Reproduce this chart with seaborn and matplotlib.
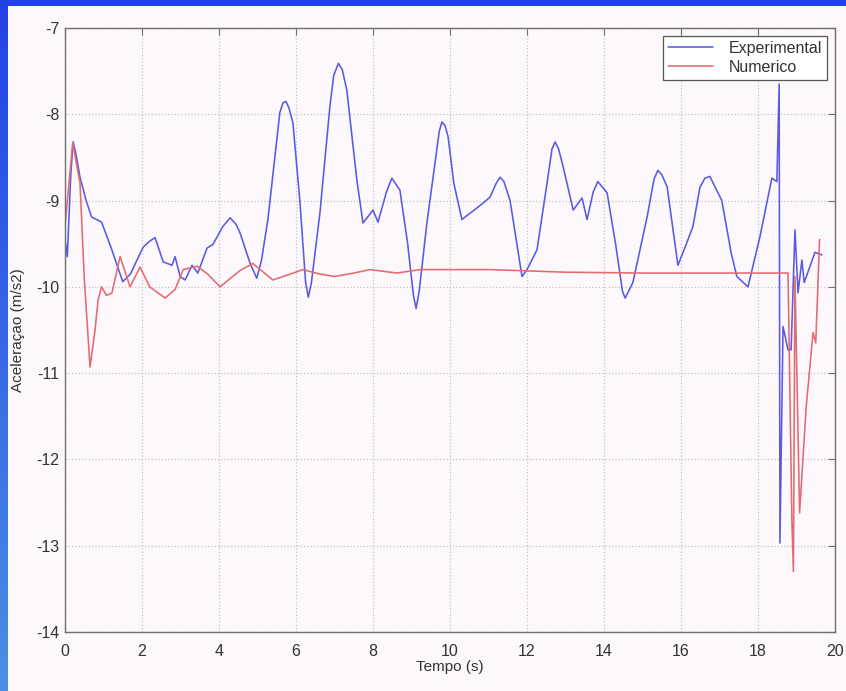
import numpy as np
import pandas as pd
import matplotlib
matplotlib.use("Agg")
import matplotlib.pyplot as plt
import seaborn as sns
from matplotlib.patches import Rectangle
from matplotlib.colors import LinearSegmentedColormap

# ---- data ----
exp_t = [0, 0.06, 0.15, 0.21, 0.28, 0.39, 0.55, 0.69, 0.95, 1.2, 1.5, 1.7, 2.03, 2.2, 2.34,
         2.55, 2.78, 2.86, 2.99, 3.12, 3.3, 3.45, 3.69, 3.84, 4.1, 4.29, 4.45, 4.55, 4.81,
         4.98, 5.1, 5.27, 5.45, 5.58, 5.66, 5.74, 5.82, 5.92, 6.1, 6.25, 6.32, 6.4, 6.62,
         6.88, 6.98, 7.1, 7.2, 7.32, 7.58, 7.74, 8.0, 8.13, 8.35, 8.49, 8.7, 8.9, 9.05, 9.12,
         9.2, 9.4, 9.6, 9.72, 9.79, 9.87, 9.95, 10.1, 10.31, 10.45, 10.6, 10.8, 11.04, 11.2,
         11.3, 11.4, 11.56, 11.87, 12.0, 12.26, 12.52, 12.65, 12.73, 12.82, 12.94, 13.2,
         13.43, 13.56, 13.72, 13.84, 14.08, 14.3, 14.48, 14.55, 14.75, 15.12, 15.3, 15.4,
         15.5, 15.64, 15.92, 16.15, 16.31, 16.49, 16.62, 16.75, 17.06, 17.3, 17.45, 17.74,
         18.05, 18.36, 18.49, 18.55, 18.57, 18.65, 18.78, 18.86, 18.96, 19.04, 19.14, 19.2,
         19.48, 19.66]
exp_v = [-9.45, -9.65, -8.7, -8.32, -8.45, -8.73, -9.0, -9.19, -9.25, -9.55, -9.94, -9.85,
         -9.54, -9.47, -9.43, -9.71, -9.75, -9.65, -9.88, -9.92, -9.75, -9.84, -9.55, -9.51,
         -9.3, -9.2, -9.28, -9.38, -9.73, -9.9, -9.7, -9.22, -8.5, -7.98, -7.87, -7.85,
         -7.93, -8.1, -9.0, -9.95, -10.12, -9.95, -9.15, -7.91, -7.55, -7.41, -7.48, -7.72,
         -8.76, -9.26, -9.11, -9.25, -8.9, -8.74, -8.88, -9.5, -10.1, -10.25, -10.05, -9.26,
         -8.6, -8.2, -8.09, -8.13, -8.26, -8.8, -9.22, -9.17, -9.12, -9.05, -8.96, -8.8,
         -8.73, -8.78, -9.0, -9.88, -9.8, -9.57, -8.8, -8.4, -8.32, -8.4, -8.61, -9.11,
         -8.97, -9.22, -8.9, -8.78, -8.91, -9.5, -10.05, -10.13, -9.95, -9.19, -8.75, -8.65,
         -8.7, -8.84, -9.75, -9.49, -9.3, -8.85, -8.74, -8.72, -9.0, -9.6, -9.88, -10.0,
         -9.42, -8.74, -8.78, -7.65, -12.97, -10.46, -10.73, -10.73, -9.34, -10.07, -9.69,
         -9.95, -9.6, -9.63]

num_t = [0, 0.2, 0.39, 0.5, 0.65, 0.78, 0.86, 0.95, 1.08, 1.22, 1.43, 1.69, 1.95, 2.2, 2.6,
         2.86, 3.07, 3.43, 3.7, 4.03, 4.3, 4.55, 4.88, 5.4, 5.8, 6.18, 6.6, 7.0, 7.5, 7.92,
         8.62, 9.22, 11.04, 13.0, 15.0, 17.0, 18.78, 18.88, 18.92, 18.96, 19.08, 19.25,
         19.43, 19.5, 19.6]
num_v = [-9.3, -8.33, -8.8, -9.9, -10.93, -10.5, -10.15, -10.0, -10.1, -10.07, -9.65, -10.0,
         -9.77, -10.0, -10.13, -10.03, -9.8, -9.76, -9.85, -10.0, -9.9, -9.81, -9.73, -9.92,
         -9.86, -9.8, -9.85, -9.88, -9.84, -9.8, -9.84, -9.8, -9.8, -9.83, -9.84, -9.84,
         -9.84, -12.7, -13.3, -9.88, -12.62, -11.4, -10.53, -10.65, -9.45]

x_ticks = [0, 2, 4, 6, 8, 10, 12, 14, 16, 18, 20]
y_ticks = [-14, -13, -12, -11, -10, -9, -8, -7]

df_exp = pd.DataFrame({"t": exp_t, "a": exp_v})
df_num = pd.DataFrame({"t": num_t, "a": num_v})

sns.set_style("white")
plt.rcParams["font.family"] = ["Liberation Sans", "DejaVu Sans"]

bg = "#fcf8fc"
fig = plt.figure(figsize=(8.46, 6.91), dpi=100, facecolor=bg)

# blue slide border (top band + left gradient band)
W, H = 846, 691
fig.patches.append(Rectangle((0, 1 - 6 / H), 1, 6 / H, transform=fig.transFigure,
                             facecolor="#2342e6", edgecolor="none", zorder=0))
gax = fig.add_axes([0, 0, 8 / W, 1])
grad = np.linspace(0, 1, 256).reshape(-1, 1)
cm = LinearSegmentedColormap.from_list("b", ["#2342e6", "#4a8fe4"])
gax.imshow(grad, aspect="auto", cmap=cm, extent=[0, 1, 1, 0])
gax.set_axis_off()

ax = fig.add_axes([65 / W, 1 - 632 / H, (835 - 65) / W, (632 - 28) / H])
ax.set_facecolor(bg)

sns.lineplot(data=df_exp, x="t", y="a", ax=ax, color="#5a5ae2", lw=1.15,
             estimator=None, sort=False, label="Experimental")
sns.lineplot(data=df_num, x="t", y="a", ax=ax, color="#e56a6e", lw=1.15,
             estimator=None, sort=False, label="Numerico")

ax.set_xlim(0, 20)
ax.set_ylim(-14, -7)
ax.set_xticks(x_ticks)
ax.set_yticks(y_ticks)
ax.set_xticklabels([str(v) for v in x_ticks])
ax.set_yticklabels([str(v) for v in y_ticks])
ax.grid(True, color="#c4c4c4", linestyle=":", linewidth=0.9)
for s in ax.spines.values():
    s.set_visible(True)
    s.set_color("#707070")
    s.set_linewidth(1.0)
ax.tick_params(direction="in", length=5, width=0.8, color="#707070",
               top=True, right=True, labelsize=11.5, labelcolor="#333333")
ax.tick_params(axis="x", pad=9)
ax.tick_params(axis="y", pad=4)
ax.set_xlabel("Tempo (s)", fontsize=11, color="#333333", labelpad=0)
ax.set_ylabel("Aceleraçao (m/s2)", fontsize=11, color="#333333", labelpad=8)

leg = ax.legend(loc="upper right", fontsize=11.5, frameon=True, fancybox=False,
                framealpha=1, borderpad=0.3, handlelength=2.8, labelspacing=0.25,
                borderaxespad=0.5, handletextpad=1.0)
leg.get_frame().set_edgecolor("#555555")
leg.get_frame().set_linewidth(0.9)
for t in leg.get_texts():
    t.set_color("#333333")

fig.savefig("out.png", dpi=100, facecolor=bg)
